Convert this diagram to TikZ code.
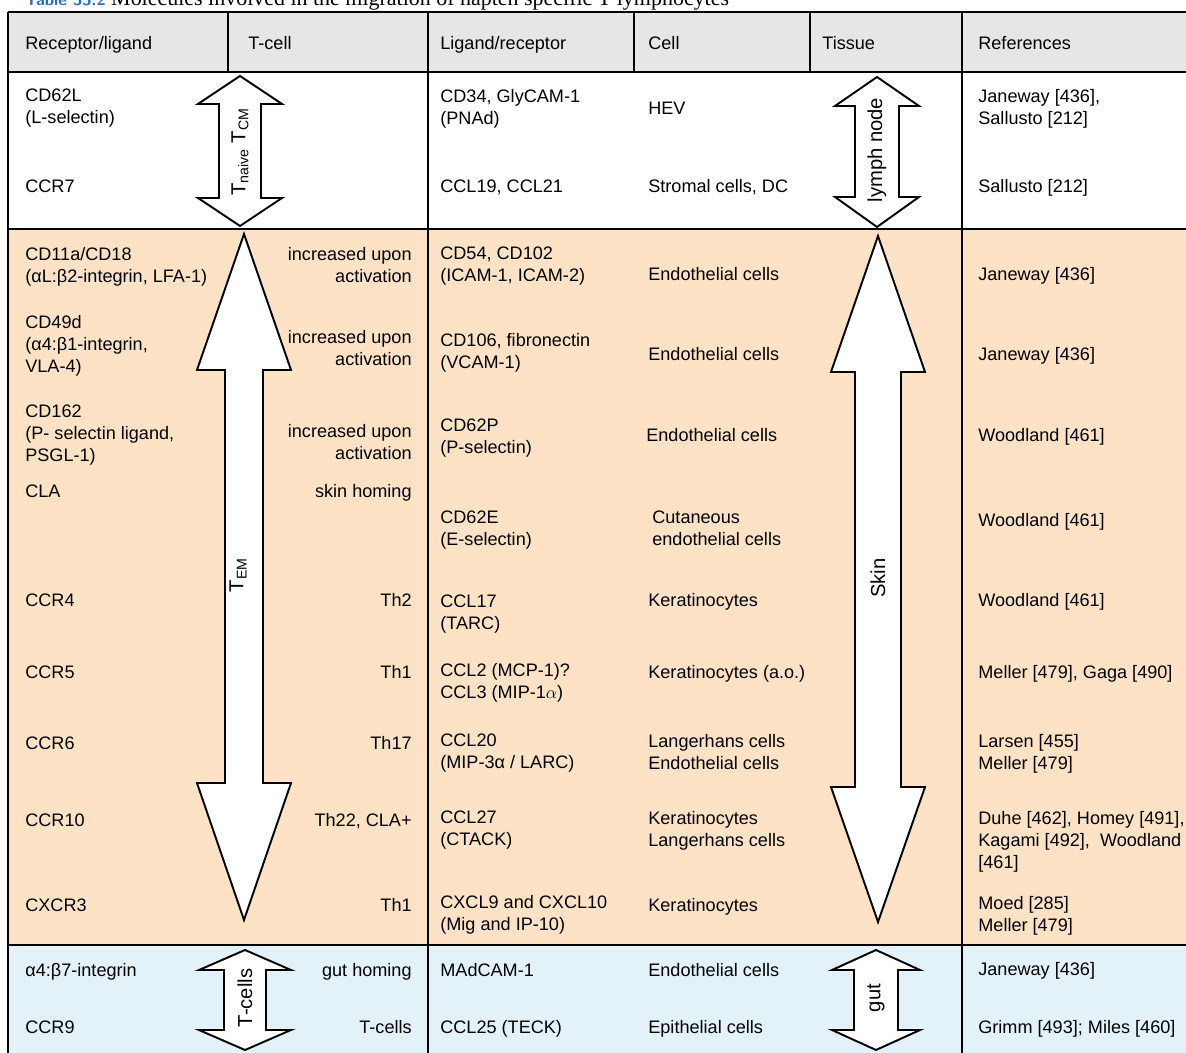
\documentclass[tikz,border=0pt]{standalone}
\usepackage{fontspec}
\setmainfont{Liberation Sans}
\newfontfamily\capfont{Liberation Serif}
\usepackage{xcolor}
\definecolor{headgray}{RGB}{230,230,230}
\definecolor{peach}{RGB}{253,226,198}
\definecolor{paleblue}{RGB}{227,242,249}
\definecolor{capblue}{RGB}{40,110,190}
\newcommand{\cellfont}{\fontsize{10.3}{12.5}\selectfont}
\newcommand{\tagfont}{\fontsize{11.5}{13}\selectfont}

\begin{document}
\begin{tikzpicture}[x=0.02cm,y=-0.02cm,
		txt/.style={inner sep=0pt,anchor=north west,align=left,font=\cellfont,execute at begin node=\strut},
		rtxt/.style={txt,anchor=north east,align=right},
		tag/.style={inner sep=0pt,rotate=90,font=\tagfont},
		rule/.style={line width=1.15pt},
		blk/.style={draw,fill=white,line width=1.1pt,line join=miter}]
			\useasboundingbox (0,0) rectangle (1186,1053);
			\clip (0,0) rectangle (1186,1053);
			
			\node[anchor=base west,inner sep=0pt,font=\capfont\fontsize{12.5}{14}\selectfont] (caption) at (25,6)
				{{\sffamily\bfseries\fontsize{9.5}{12}\selectfont\color{capblue}Table 33.2}\ Molecules involved in the migration of hapten specific T lymphocytes};
			
			\fill[headgray] (8,12) rectangle (1200,72);
			\fill[peach] (8,229) rectangle (1200,945);
			\fill[paleblue] (8,945) rectangle (1200,1060);
			\draw[rule] (8,12)--(1200,12);
			\draw[rule] (8,72)--(1200,72);
			\draw[rule] (8,229)--(1200,229);
			\draw[rule] (8,945)--(1200,945);
			\draw[rule] (8,12)--(8,1060);
			\draw[rule] (428,12)--(428,1060);
			\draw[rule] (962,12)--(962,1060);
			\draw[rule] (228,12)--(228,72);
			\draw[rule] (634,12)--(634,72);
			\draw[rule] (810,12)--(810,72);
			
			\node[txt] (hrl) at (25,34) {Receptor/ligand};
			\node[txt] (htc) at (248,34) {T-cell};
			\node[txt] (hlr) at (440,34) {Ligand/receptor};
			\node[txt] (hcl) at (648,34) {Cell};
			\node[txt] (hts) at (822,34) {Tissue};
			\node[txt] (hrf) at (978,34) {References};
			
			\draw[blk] (240,76)--(282,104)--(261,104)--(261,198)--(282,198)--(240,226)--(198,198)--(219,198)--(219,104)--(198,104)--cycle;
			\draw[blk] (877,77)--(919,106)--(899,106)--(899,197)--(919,197)--(877,227)--(835,197)--(855,197)--(855,106)--(835,106)--cycle;
			\draw[blk] (244,234)--(291,370)--(263,370)--(263,783)--(291,783)--(244,920)--(197,783)--(225,783)--(225,370)--(197,370)--cycle;
			\draw[blk] (878,236)--(925,372)--(901,372)--(901,787)--(925,787)--(878,922)--(831,787)--(855,787)--(855,372)--(831,372)--cycle;
			\draw[blk] (245,950)--(291,970)--(266,970)--(266,1030)--(291,1030)--(245,1050)--(199,1030)--(224,1030)--(224,970)--(199,970)--cycle;
			\draw[blk] (876,950)--(920,970)--(898,970)--(898,1030)--(920,1030)--(876,1050)--(832,1030)--(854,1030)--(854,970)--(832,970)--cycle;
			
			\node[tag] (tnaive) at (240,152) {T\textsubscript{naive} T\textsubscript{CM}};
			\node[tag] (lymph) at (877,150) {lymph node};
			\node[tag] (tem) at (238,575) {T\textsubscript{EM}};
			\node[tag] (skin) at (878,578) {Skin};
			\node[tag] (tcells) at (245,998) {T-cells};
			\node[tag] (gut) at (876,998) {gut};
			
			\node[txt] (cd62l) at (25,89) {CD62L\\(L-selectin)};
			\node[txt] (ccr7) at (25,177) {CCR7};
			\node[txt] (cd34) at (440,89) {CD34, GlyCAM-1\\(PNAd)};
			\node[txt] (hev) at (648,99) {HEV};
			\node[txt] (ccl19) at (440,177) {CCL19, CCL21};
			\node[txt] (stromal) at (648,177) {Stromal cells, DC};
			\node[txt] (ref1) at (978,89) {Janeway [436],\\Sallusto [212]};
			\node[txt] (ref2) at (978,177) {Sallusto [212]};
			
			\node[txt] (cd11a) at (25,247) {CD11a/CD18\\(αL:β2-integrin, LFA-1)};
			\node[rtxt] (act1) at (412,247) {increased upon\\activation};
			\node[txt] (cd54) at (440,247) {CD54, CD102\\(ICAM-1, ICAM-2)};
			\node[txt] (endo1) at (648,265) {Endothelial cells};
			\node[txt] (ref3) at (978,265) {Janeway [436]};
			
			\node[txt] (cd49d) at (25,315) {CD49d\\(α4:β1-integrin,\\VLA-4)};
			\node[rtxt] (act2) at (412,330) {increased upon\\activation};
			\node[txt] (cd106) at (440,333) {CD106, fibronectin\\(VCAM-1)};
			\node[txt] (endo2) at (648,345) {Endothelial cells};
			\node[txt] (ref4) at (978,345) {Janeway [436]};
			
			\node[txt] (cd162) at (25,405) {CD162\\(P- selectin ligand,\\PSGL-1)};
			\node[rtxt] (act3) at (412,424) {increased upon\\activation};
			\node[txt] (cd62p) at (440,419) {CD62P\\(P-selectin)};
			\node[txt] (endo3) at (646,426) {Endothelial cells};
			\node[txt] (ref5) at (978,426) {Woodland [461]};
			
			\node[txt] (cla) at (25,482) {CLA};
			\node[rtxt] (skinh) at (412,482) {skin homing};
			\node[txt] (cd62e) at (440,511) {CD62E\\(E-selectin)};
			\node[txt] (cutan) at (652,511) {Cutaneous\\endothelial cells};
			\node[txt] (ref6) at (978,511) {Woodland [461]};
			
			\node[txt] (ccr4) at (25,591) {CCR4};
			\node[rtxt] (th2) at (412,591) {Th2};
			\node[txt] (ccl17) at (440,595) {CCL17\\(TARC)};
			\node[txt] (kera1) at (648,591) {Keratinocytes};
			\node[txt] (ref7) at (978,591) {Woodland [461]};
			
			\node[txt] (ccr5) at (25,663) {CCR5};
			\node[rtxt] (th1a) at (412,663) {Th1};
			\node[txt] (ccl2) at (440,663) {CCL2 (MCP-1)?\\CCL3 (MIP-1$\alpha$)};
			\node[txt] (kera2) at (648,663) {Keratinocytes (a.o.)};
			\node[txt] (ref8) at (978,663) {Meller [479], Gaga [490]};
			
			\node[txt] (ccr6) at (25,734) {CCR6};
			\node[rtxt] (th17) at (412,734) {Th17};
			\node[txt] (ccl20) at (440,734) {CCL20\\(MIP-3α / LARC)};
			\node[txt] (lang1) at (648,734) {Langerhans cells\\Endothelial cells};
			\node[txt] (ref9) at (978,734) {Larsen [455]\\Meller [479]};
			
			\node[txt] (ccr10) at (25,811) {CCR10};
			\node[rtxt] (th22) at (412,811) {Th22, CLA+};
			\node[txt] (ccl27) at (440,811) {CCL27\\(CTACK)};
			\node[txt] (kera3) at (648,811) {Keratinocytes\\Langerhans cells};
			\node[txt] (ref10) at (978,811) {Duhe [462], Homey [491],\\Kagami [492], \ Woodland\\{[461]}};
			
			\node[txt] (cxcr3) at (25,896) {CXCR3};
			\node[rtxt] (th1b) at (412,896) {Th1};
			\node[txt] (cxcl9) at (440,895) {CXCL9 and CXCL10\\(Mig and IP-10)};
			\node[txt] (kera4) at (648,896) {Keratinocytes};
			\node[txt] (ref11) at (978,896) {Moed [285]\\Meller [479]};
			
			\node[txt] (a4b7) at (25,961) {α4:β7-integrin};
			\node[rtxt] (guth) at (412,961) {gut homing};
			\node[txt] (madcam) at (440,961) {MAdCAM-1};
			\node[txt] (endo4) at (648,961) {Endothelial cells};
			\node[txt] (ref12) at (978,960) {Janeway [436]};
			\node[txt] (ccr9) at (25,1018) {CCR9};
			\node[rtxt] (tcl) at (412,1018) {T-cells};
			\node[txt] (ccl25) at (440,1018) {CCL25 (TECK)};
			\node[txt] (epi) at (648,1018) {Epithelial cells};
			\node[txt] (ref13) at (978,1018) {Grimm [493]; Miles [460]};
		\end{tikzpicture}
\end{document}
